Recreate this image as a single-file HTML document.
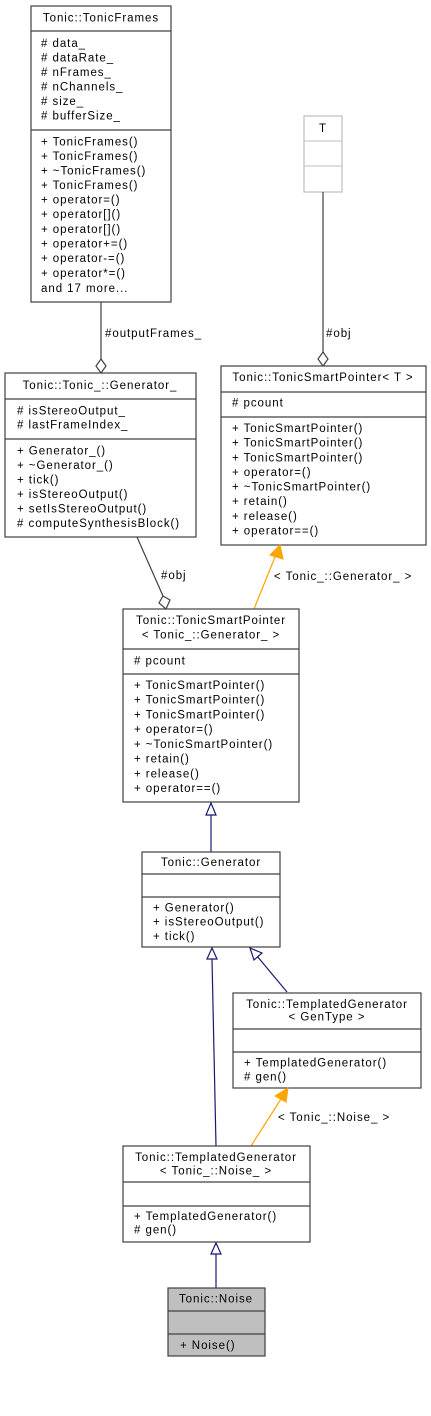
<!DOCTYPE html>
<html><head><meta charset="utf-8"><style>
html,body{margin:0;padding:0;background:#fff}
svg{display:block}
text{font-family:"Liberation Sans",sans-serif;font-size:11.5px;letter-spacing:0.95px;fill:#000}
.b{fill:#fff;stroke:#404040;stroke-width:1.2}
.l{stroke:#404040;stroke-width:1.2}
</style></head><body>
<svg width="431" height="1416" viewBox="0 0 431 1416" xmlns="http://www.w3.org/2000/svg">
<!-- TonicFrames -->
<rect class="b" x="31" y="6" width="140" height="296"/>
<line class="l" x1="31" y1="31" x2="171" y2="31"/><line class="l" x1="31" y1="130" x2="171" y2="130"/>
<text x="101" y="21.5" text-anchor="middle">Tonic::TonicFrames</text>
<text x="41" y="47"># data_</text><text x="41" y="61.5"># dataRate_</text><text x="41" y="76"># nFrames_</text><text x="41" y="90.5"># nChannels_</text><text x="41" y="105"># size_</text><text x="41" y="119.5"># bufferSize_</text>
<text x="41" y="145.5">+ TonicFrames()</text><text x="41" y="160">+ TonicFrames()</text><text x="41" y="174.5">+ ~TonicFrames()</text><text x="41" y="189">+ TonicFrames()</text><text x="41" y="203.5">+ operator=()</text><text x="41" y="218">+ operator[]()</text><text x="41" y="233">+ operator[]()</text><text x="41" y="247.5">+ operator+=()</text><text x="41" y="262">+ operator-=()</text><text x="41" y="277">+ operator*=()</text><text x="41" y="292">and 17 more...</text>
<line class="l" x1="101" y1="302" x2="101" y2="359"/>
<polygon points="101,359 106,366 101,373 96,366" fill="#fff" stroke="#404040" stroke-width="1.2"/>
<text x="105" y="337">#outputFrames_</text>
<!-- T -->
<rect x="304" y="116" width="38" height="76" fill="#fff" stroke="#bfbfbf" stroke-width="1.2"/>
<line x1="304" y1="141" x2="342" y2="141" stroke="#bfbfbf"/><line x1="304" y1="166" x2="342" y2="166" stroke="#bfbfbf"/>
<text x="323" y="132" text-anchor="middle">T</text>
<line class="l" x1="323" y1="192" x2="323" y2="352"/>
<polygon points="323,352 328,359 323,366 318,359" fill="#fff" stroke="#404040" stroke-width="1.2"/>
<text x="326" y="337">#obj</text>
<!-- Generator_ -->
<rect class="b" x="5" y="373" width="191" height="164"/>
<line class="l" x1="5" y1="399" x2="196" y2="399"/><line class="l" x1="5" y1="439" x2="196" y2="439"/>
<text x="100" y="389" text-anchor="middle">Tonic::Tonic_::Generator_</text>
<text x="17" y="414.5"># isStereoOutput_</text><text x="17" y="428.5"># lastFrameIndex_</text>
<text x="17" y="454.5">+ Generator_()</text><text x="17" y="469">+ ~Generator_()</text><text x="17" y="483.5">+ tick()</text><text x="17" y="498">+ isStereoOutput()</text><text x="17" y="512.5">+ setIsStereoOutput()</text><text x="17" y="527"># computeSynthesisBlock()</text>
<!-- TSP<T> -->
<rect class="b" x="221" y="366" width="205" height="179"/>
<line class="l" x1="221" y1="392" x2="426" y2="392"/><line class="l" x1="221" y1="417" x2="426" y2="417"/>
<text x="323" y="381" text-anchor="middle">Tonic::TonicSmartPointer&lt; T &gt;</text>
<text x="232" y="406.5"># pcount</text>
<text x="232" y="432">+ TonicSmartPointer()</text><text x="232" y="446.6">+ TonicSmartPointer()</text><text x="232" y="461.3">+ TonicSmartPointer()</text><text x="232" y="475.9">+ operator=()</text><text x="232" y="490.6">+ ~TonicSmartPointer()</text><text x="232" y="505.2">+ retain()</text><text x="232" y="519.8">+ release()</text><text x="232" y="534.5">+ operator==()</text>
<!-- edges to TSP<Gen> -->
<line class="l" x1="137" y1="537" x2="163" y2="596"/>
<polygon points="163,596 170,600 166,609 159,603" fill="#fff" stroke="#404040" stroke-width="1.2"/>
<text x="161" y="579">#obj</text>
<line x1="254" y1="609" x2="275" y2="557" stroke="orange" stroke-width="1.2"/>
<polygon points="280,545 283,559 270,555" fill="orange" stroke="orange"/>
<text x="274" y="580">&lt; Tonic_::Generator_ &gt;</text>
<!-- TSP<Gen> -->
<rect class="b" x="123" y="609" width="176" height="193"/>
<line class="l" x1="123" y1="649" x2="299" y2="649"/><line class="l" x1="123" y1="674" x2="299" y2="674"/>
<text x="211" y="624" text-anchor="middle">Tonic::TonicSmartPointer</text>
<text x="211" y="638.5" text-anchor="middle">&lt; Tonic_::Generator_ &gt;</text>
<text x="134" y="664.5"># pcount</text>
<text x="134" y="689">+ TonicSmartPointer()</text><text x="134" y="703.7">+ TonicSmartPointer()</text><text x="134" y="718.4">+ TonicSmartPointer()</text><text x="134" y="733.1">+ operator=()</text><text x="134" y="747.8">+ ~TonicSmartPointer()</text><text x="134" y="762.6">+ retain()</text><text x="134" y="777.3">+ release()</text><text x="134" y="792">+ operator==()</text>
<!-- Generator -> TSP<Gen> -->
<line x1="211" y1="852" x2="211" y2="814" stroke="#191970" stroke-width="1.2"/>
<polygon points="211,803 216,815 206,815" fill="#fff" stroke="#191970" stroke-width="1.2"/>
<!-- Generator -->
<rect class="b" x="142" y="852" width="138" height="95"/>
<line class="l" x1="142" y1="874" x2="280" y2="874"/><line class="l" x1="142" y1="897" x2="280" y2="897"/>
<text x="211" y="866" text-anchor="middle">Tonic::Generator</text>
<text x="153" y="911.5">+ Generator()</text><text x="153" y="925.5">+ isStereoOutput()</text><text x="153" y="940">+ tick()</text>
<!-- edges to Generator -->
<line x1="216" y1="1146" x2="212" y2="959" stroke="#191970" stroke-width="1.2"/>
<polygon points="212,948 217,959 207,959" fill="#fff" stroke="#191970" stroke-width="1.2"/>
<line x1="287" y1="992" x2="257" y2="956" stroke="#191970" stroke-width="1.2"/>
<polygon points="250,948 262,953 254,960" fill="#fff" stroke="#191970" stroke-width="1.2"/>
<!-- TG<GenType> -->
<rect class="b" x="233" y="993" width="188" height="95"/>
<line class="l" x1="233" y1="1029" x2="421" y2="1029"/><line class="l" x1="233" y1="1052" x2="421" y2="1052"/>
<text x="327" y="1008" text-anchor="middle">Tonic::TemplatedGenerator</text>
<text x="327" y="1020.5" text-anchor="middle">&lt; GenType &gt;</text>
<text x="244" y="1066.5">+ TemplatedGenerator()</text><text x="244" y="1080.5"># gen()</text>
<line x1="251" y1="1146" x2="281" y2="1099" stroke="orange" stroke-width="1.2"/>
<polygon points="288,1088 286,1102 275,1096" fill="orange" stroke="orange"/>
<text x="278" y="1121">&lt; Tonic_::Noise_ &gt;</text>
<!-- TG<Noise> -->
<rect class="b" x="123" y="1146" width="187" height="96"/>
<line class="l" x1="123" y1="1182" x2="310" y2="1182"/><line class="l" x1="123" y1="1206" x2="310" y2="1206"/>
<text x="216" y="1161" text-anchor="middle">Tonic::TemplatedGenerator</text>
<text x="216" y="1174.5" text-anchor="middle">&lt; Tonic_::Noise_ &gt;</text>
<text x="134" y="1220">+ TemplatedGenerator()</text><text x="134" y="1233.5"># gen()</text>
<line x1="216" y1="1288" x2="216" y2="1254" stroke="#191970" stroke-width="1.2"/>
<polygon points="216,1243 221,1254 211,1254" fill="#fff" stroke="#191970" stroke-width="1.2"/>
<!-- Noise -->
<rect x="168" y="1288" width="97" height="68" fill="#bfbfbf" stroke="#404040" stroke-width="1.2"/>
<line class="l" x1="168" y1="1311" x2="265" y2="1311"/><line class="l" x1="168" y1="1334" x2="265" y2="1334"/>
<text x="216" y="1302.5" text-anchor="middle">Tonic::Noise</text>
<text x="180" y="1349">+ Noise()</text>
</svg>
</body></html>
